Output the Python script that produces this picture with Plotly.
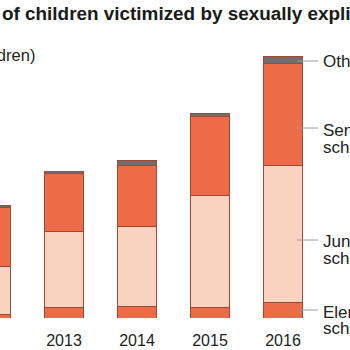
import plotly.graph_objects as go

years = ["2012", "2013", "2014", "2015", "2016"]
elementary = [6, 20, 22, 19, 28]
junior_high = [88, 139, 146, 206, 252]
senior_high = [109, 106, 112, 146, 188]
other = [4, 4, 9, 5, 12]

series_names = ["Elementary school", "Junior high school", "Senior high school", "Other"]
series_values = [elementary, junior_high, senior_high, other]
series_colors = ["#EE6B47", "#F9D3BF", "#EE6B47", "#6E6E6E"]

W, H = 350, 350
ML, MR, MT, MB = 0, 0, 0, 32


def px_x(p):
    return (p - ML) / (W - ML - MR)


def px_y(p):
    return 1 - (p - MT) / (H - MT - MB)


fig = go.Figure()
for name, vals, col in zip(series_names, series_values, series_colors):
    fig.add_trace(go.Bar(
        x=years, y=vals, name=name,
        marker=dict(color=col, line=dict(color="#9C4A35", width=1)),
        width=0.534,
    ))

annotations = [
    dict(text="<b>of children victimized by sexually explicit selfies</b>",
         x=px_x(0), y=px_y(13.5), xanchor="left", yanchor="middle",
         font=dict(size=18.9, color="#1a1a1a")),
    dict(text="(Number of children)",
         x=px_x(37), y=px_y(54.5), xanchor="right", yanchor="middle",
         font=dict(size=16.5, color="#222222")),
]
right_labels = [("Other", 61), ("Senior high", 130), ("school", 147),
                ("Junior high", 241), ("school", 258),
                ("Elementary", 312), ("school", 328.5)]
for t, yp in right_labels:
    annotations.append(dict(text=t, x=px_x(321), y=px_y(yp), xanchor="left",
                            yanchor="middle", font=dict(size=17, color="#222222")))
for a in annotations:
    a.update(xref="paper", yref="paper", showarrow=False)

shapes = []
for yp in [61, 128, 240, 310]:
    shapes.append(dict(type="line", xref="paper", yref="paper",
                       x0=px_x(297), x1=px_x(318), y0=px_y(yp), y1=px_y(yp),
                       line=dict(color="#9A9A9A", width=1)))

fig.update_layout(
    barmode="stack",
    width=W, height=H,
    margin=dict(l=ML, r=MR, t=MT, b=MB, pad=0),
    paper_bgcolor="white", plot_bgcolor="white",
    showlegend=False,
    font=dict(family="Liberation Sans, Arial, sans-serif", color="#222222"),
    xaxis=dict(type="category", range=[0.123, 4.918], showline=False, showgrid=False,
               zeroline=False, ticks="outside", ticklen=8, tickcolor="rgba(0,0,0,0)",
               tickfont=dict(size=16, color="#222222")),
    yaxis=dict(range=[0, 584.8], visible=False),
    annotations=annotations,
    shapes=shapes,
)

fig.write_html("out.html")
